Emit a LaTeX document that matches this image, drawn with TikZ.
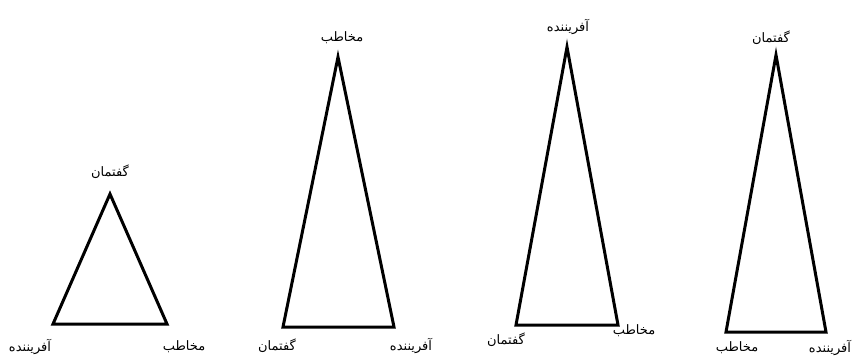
\documentclass[tikz,border=0pt]{standalone}
\usepackage{fontspec}
\newfontfamily\arabicfont[Script=Arabic]{DejaVu Sans}
\TeXXeTstate=1
\tikzset{
  tri/.style={draw=black, line width=3pt, line join=miter},
  lbl/.style={font=\arabicfont\fontsize{13}{15}\selectfont, inner sep=0pt, text=black}
}
\begin{document}
\begin{tikzpicture}[x=1pt,y=-1pt]
\useasboundingbox (0,0) rectangle (853,358);
% triangle 1
\coordinate (t1) at (110,194);
\coordinate (l1) at (53,324);
\coordinate (r1) at (167,324);
\draw[tri] (t1) -- (l1) -- (r1) -- cycle;
\node[lbl] (t1l) at (110,172) {\beginR گفتمان\endR};
\node[lbl] (l1l) at (30,347) {\beginR آفریننده\endR};
\node[lbl] (r1l) at (184,347) {\beginR مخاطب\endR};
% triangle 2
\coordinate (t2) at (338,57);
\coordinate (l2) at (283,327);
\coordinate (r2) at (394,327);
\draw[tri] (t2) -- (l2) -- (r2) -- cycle;
\node[lbl] (t2l) at (342,38) {\beginR مخاطب\endR};
\node[lbl] (l2l) at (277,346) {\beginR گفتمان\endR};
\node[lbl] (r2l) at (411,346) {\beginR آفریننده\endR};
% triangle 3
\coordinate (t3) at (567,47);
\coordinate (l3) at (516,325);
\coordinate (r3) at (618,325);
\draw[tri] (t3) -- (l3) -- (r3) -- cycle;
\node[lbl] (t3l) at (568,27) {\beginR آفریننده\endR};
\node[lbl] (l3l) at (506,340) {\beginR گفتمان\endR};
\node[lbl] (r3l) at (634,331) {\beginR مخاطب\endR};
% triangle 4
\coordinate (t4) at (776,55);
\coordinate (l4) at (726,332);
\coordinate (r4) at (826,332);
\draw[tri] (t4) -- (l4) -- (r4) -- cycle;
\node[lbl] (t4l) at (771,38) {\beginR گفتمان\endR};
\node[lbl] (l4l) at (737,348) {\beginR مخاطب\endR};
\node[lbl] (r4l) at (830,348) {\beginR آفریننده\endR};
\end{tikzpicture}
\end{document}
